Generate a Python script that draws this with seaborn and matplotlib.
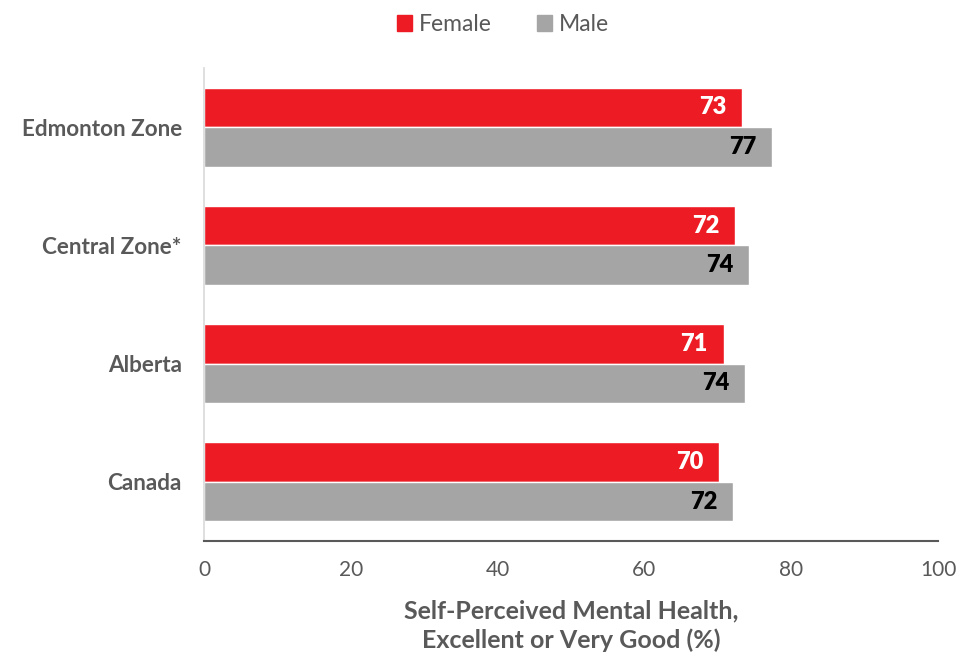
import matplotlib
matplotlib.use("Agg")
import matplotlib.pyplot as plt
import seaborn as sns
import pandas as pd
from matplotlib.patches import Patch

categories = ["Edmonton Zone", "Central Zone*", "Alberta", "Canada"]
female = [73.3, 72.4, 70.8, 70.2]
male = [77.4, 74.3, 73.7, 72.1]
female_labels = ["73", "72", "71", "70"]
male_labels = ["77", "74", "74", "72"]
xticks = [0, 20, 40, 60, 80, 100]

sns.set_theme(style="white")
plt.rcParams['font.family'] = ['Lato', 'DejaVu Sans']

df = pd.DataFrame({
    "Region": categories * 2,
    "Value": female + male,
    "Sex": ["Female"] * 4 + ["Male"] * 4,
})

fig = plt.figure(figsize=(9.64, 6.57), dpi=100)
ax = fig.add_axes([0.2116, 0.1766, 0.7614, 0.7199])
sns.barplot(data=df, y="Region", x="Value", hue="Sex", order=categories,
            hue_order=["Female", "Male"], palette=["#ED1C24", "#A5A5A5"],
            orient="h", width=0.67, saturation=1, ax=ax, legend=False)

for cont, labs, col in zip(ax.containers, [female_labels, male_labels], ["white", "black"]):
    ax.bar_label(cont, labels=labs, padding=-31, color=col, fontsize=17, fontweight="heavy")

ax.set_xlim(0, 100)
ax.set_xticks(xticks)
ax.set_xticklabels([str(t) for t in xticks], fontsize=15, color="#595959")
ax.tick_params(axis="x", direction="out", length=6, width=1.2, color="#595959", pad=8)
ax.tick_params(axis="y", length=0, pad=16)
for lab in ax.get_yticklabels():
    lab.set_fontsize(16.2)
    lab.set_fontweight("bold")
    lab.set_color("#595959")
ax.set_ylabel("")
ax.set_xlabel("Self-Perceived Mental Health,\nExcellent or Very Good (%)", fontsize=18,
              fontweight="bold", color="#595959", labelpad=14, linespacing=1.3)
for s in ["top", "right"]:
    ax.spines[s].set_visible(False)
ax.spines["left"].set_color("#D9D9D9")
ax.spines["left"].set_linewidth(1.2)
ax.spines["bottom"].set_color("#595959")
ax.spines["bottom"].set_linewidth(1.5)

handles = [Patch(color="#ED1C24", label="Female"), Patch(color="#A5A5A5", label="Male")]
fig.legend(handles=handles, loc="upper center", bbox_to_anchor=(0.522, 1.01), ncol=2,
           frameon=False, fontsize=16.5, handlelength=0.65, handleheight=0.65,
           handletextpad=0.3, columnspacing=2.0, labelcolor="#595959")

fig.savefig("out.png", dpi=100)
